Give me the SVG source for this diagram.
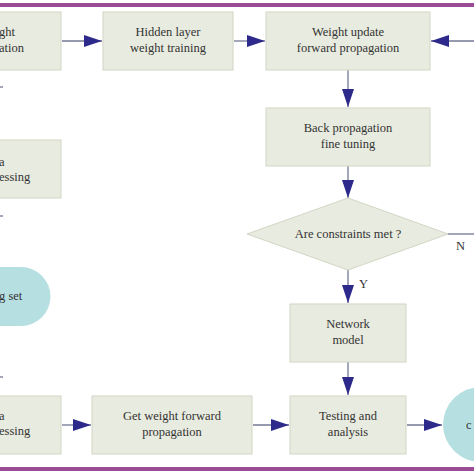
<svg xmlns="http://www.w3.org/2000/svg" width="474" height="474" viewBox="0 0 474 474">
<defs>
<style>
.box{fill:#e8ebdf;stroke:#d2d6c5;stroke-width:1}
.term{fill:#b6dfe2;stroke:none}
.t{font-family:"Liberation Serif","Times New Roman",serif;font-size:12.5px;fill:#333333;text-anchor:middle}
.ts{font-family:"Liberation Serif","Times New Roman",serif;font-size:12.5px;fill:#333333}
.ln{stroke:#737894;stroke-width:1.3;fill:none}
.bar{fill:#9a4c95}
</style>
<marker id="ah" viewBox="0 0 18 12" refX="18" refY="6" markerWidth="18" markerHeight="12" markerUnits="userSpaceOnUse" orient="auto">
<path d="M0,0 L18,6 L0,12 Z" fill="#2d2a8c"/>
</marker>
</defs>
<rect width="474" height="474" fill="#ffffff"/>
<rect class="bar" x="0" y="3" width="474" height="4"/>
<rect class="bar" x="0" y="467" width="474" height="4"/>

<g id="connectors">
<line class="ln" x1="62" y1="41" x2="102" y2="41" marker-end="url(#ah)"/>
<line class="ln" x1="234" y1="41" x2="265" y2="41" marker-end="url(#ah)"/>
<line class="ln" x1="448" y1="234" x2="474" y2="234"/>
<line class="ln" x1="474" y1="41" x2="431" y2="41" marker-end="url(#ah)"/>
<line class="ln" x1="348" y1="70" x2="348" y2="107" marker-end="url(#ah)"/>
<line class="ln" x1="348" y1="166" x2="348" y2="198" marker-end="url(#ah)"/>
<line class="ln" x1="348" y1="270" x2="348" y2="303" marker-end="url(#ah)"/>
<line class="ln" x1="348" y1="362" x2="348" y2="395" marker-end="url(#ah)"/>
<line class="ln" x1="62" y1="425" x2="91" y2="425" marker-end="url(#ah)"/>
<line class="ln" x1="253" y1="425" x2="289" y2="425" marker-end="url(#ah)"/>
<line class="ln" x1="407" y1="425" x2="442" y2="425" marker-end="url(#ah)"/>
<line class="ln" x1="0" y1="87" x2="3" y2="87"/>
<line class="ln" x1="0" y1="216" x2="3" y2="216"/>
<line class="ln" x1="0" y1="377" x2="3" y2="377"/>
<text class="ts" x="456" y="250">N</text>
<text class="ts" x="359" y="288">Y</text>
</g>

<g id="n-weight-init">
<rect class="box" x="-70" y="12" width="131" height="58"/>
<text class="ts" x="-1" y="36">ght</text>
<text class="ts" x="-1" y="52">ation</text>
</g>

<g id="n-hidden-layer">
<rect class="box" x="103" y="12" width="130" height="58"/>
<text class="t" x="168" y="36">Hidden layer</text>
<text class="t" x="168" y="52">weight training</text>
</g>

<g id="n-weight-update">
<rect class="box" x="266" y="12" width="164" height="58"/>
<text class="t" x="348" y="36">Weight update</text>
<text class="t" x="348" y="52">forward propagation</text>
</g>

<g id="n-back-prop">
<rect class="box" x="266" y="108" width="164" height="58"/>
<text class="t" x="348" y="132">Back propagation</text>
<text class="t" x="348" y="148">fine tuning</text>
</g>

<g id="n-data-proc-1">
<rect class="box" x="-70" y="140" width="131" height="58"/>
<text class="ts" x="-1" y="166">a</text>
<text class="ts" x="-1" y="181">essing</text>
</g>

<g id="n-constraints">
<polygon class="box" points="348,198 448,234 348,270 247,234"/>
<text class="t" x="348" y="238">Are constraints met ?</text>
</g>

<g id="n-training-set">
<path class="term" d="M-60,267 H21 A29.5,29.5 0 0 1 21,326 H-60 Z"/>
<text class="ts" x="-1" y="300">g set</text>
</g>

<g id="n-network-model">
<rect class="box" x="290" y="304" width="116" height="58"/>
<text class="t" x="348" y="328">Network</text>
<text class="t" x="348" y="344">model</text>
</g>

<g id="n-data-proc-2">
<rect class="box" x="-70" y="396" width="131" height="58"/>
<text class="ts" x="-1" y="420">a</text>
<text class="ts" x="-1" y="435">essing</text>
</g>

<g id="n-get-weight">
<rect class="box" x="92" y="396" width="160" height="58"/>
<text class="t" x="172" y="420">Get weight forward</text>
<text class="t" x="172" y="436">propagation</text>
</g>

<g id="n-testing">
<rect class="box" x="290" y="396" width="116" height="58"/>
<text class="t" x="348" y="420">Testing and</text>
<text class="t" x="348" y="436">analysis</text>
</g>

<g id="n-output">
<path class="term" d="M481,387 A38,37.5 0 0 0 481,462 A38,37.5 0 0 0 481,387 Z"/>
<text class="ts" x="466" y="429">c</text>
</g>
</svg>
